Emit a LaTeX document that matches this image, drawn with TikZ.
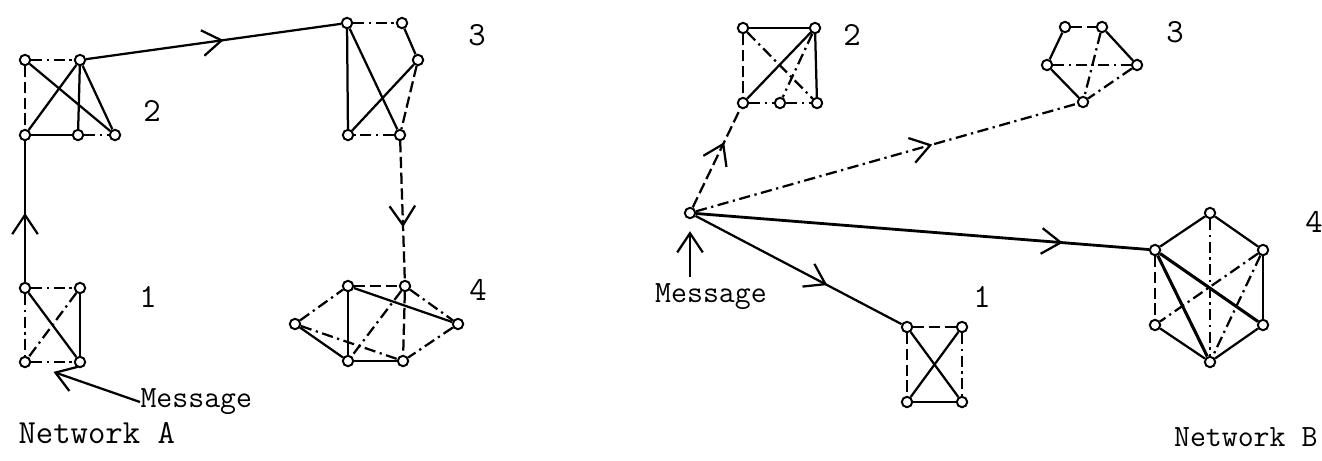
\documentclass[tikz,border=0pt]{standalone}
\usetikzlibrary{arrows.meta,decorations.markings}

\tikzset{
  host/.style={circle, draw, line width=0.7pt, inner sep=0pt, minimum size=0.13cm, fill=white},
  ln/.style={line width=0.8pt},
  dl/.style={line width=0.8pt, dash pattern=on 4pt off 1.6pt},
  ddl/.style={line width=0.8pt, dash pattern=on 4pt off 1.6pt on 0.8pt off 1.6pt},
  barb/.style={-{Straight Barb[length=2.4mm, width=3.2mm, line width=0.8pt]}},
  hop/.style={postaction={decorate}, decoration={markings,
      mark=at position #1 with {\arrow{Straight Barb[length=2.4mm, width=3.2mm, line width=0.8pt]}}}},
  numlbl/.style={font=\fontsize{12}{14}\selectfont\ttfamily, inner sep=0pt},
  msglbl/.style={font=\fontsize{11}{13}\selectfont\ttfamily, inner sep=0pt},
  netlbl/.style={font=\fontsize{12}{14}\selectfont\ttfamily, inner sep=0pt},
}

\begin{document}
\begin{tikzpicture}[x=0.0125cm, y=-0.0125cm]
  \useasboundingbox (0,0) rectangle (1322,460);

  % ---------------- Network A ----------------
  % group 1
  \node[host] (a1nw) at (25,288) {};
  \node[host] (a1ne) at (80,288) {};
  \node[host] (a1sw) at (25,362) {};
  \node[host] (a1se) at (80,362) {};
  \draw[ddl] (a1nw) -- (a1ne);
  \draw[ddl] (a1nw) -- (a1sw);
  \draw[ln]  (a1ne) -- (a1se);
  \draw[ddl] (a1sw) -- (a1se);
  \draw[ln]  (a1nw) -- (a1se);
  \draw[ddl] (a1ne) -- (a1sw);
  \node[numlbl] (la1) at (148,297) {1};

  % group 2
  \node[host] (a2nw) at (25,60) {};
  \node[host] (a2ne) at (80,60) {};
  \node[host] (a2sw) at (25,135) {};
  \node[host] (a2sm) at (78,135) {};
  \node[host] (a2se) at (115,135) {};
  \draw[ddl] (a2nw) -- (a2ne);
  \draw[dl]  (a2nw) -- (a2sw);
  \draw[ln]  (a2nw) -- (a2se);
  \draw[ln]  (a2ne) -- (a2sw);
  \draw[ln]  (a2ne) -- (a2sm);
  \draw[ln]  (a2ne) -- (a2se);
  \draw[ln]  (a2sw) -- (a2sm);
  \draw[ddl] (a2sm) -- (a2se);
  \node[numlbl] (la2) at (152,111) {2};

  % group 3
  \node[host] (a3nw) at (347,23) {};
  \node[host] (a3ne) at (402,23) {};
  \node[host] (a3e)  at (418,60) {};
  \node[host] (a3sw) at (348,135) {};
  \node[host] (a3se) at (400,135) {};
  \draw[ddl] (a3nw) -- (a3ne);
  \draw[ln]  (a3ne) -- (a3e);
  \draw[dl]  (a3e) -- (a3se);
  \draw[ddl] (a3se) -- (a3sw);
  \draw[ln]  (a3sw) -- (a3nw);
  \draw[ln]  (a3nw) -- (a3se);
  \draw[ln]  (a3e) -- (a3sw);
  \node[numlbl] (la3) at (477,35) {3};

  % group 4
  \node[host] (a4nw) at (348,286) {};
  \node[host] (a4ne) at (405,286) {};
  \node[host] (a4w)  at (295,324) {};
  \node[host] (a4e)  at (458,324) {};
  \node[host] (a4sw) at (348,361) {};
  \node[host] (a4se) at (403,361) {};
  \draw[dl]  (a4nw) -- (a4ne);
  \draw[ddl] (a4w) -- (a4nw);
  \draw[ddl] (a4w) -- (a4se);
  \draw[ln]  (a4w) -- (a4sw);
  \draw[ln]  (a4nw) -- (a4sw);
  \draw[ln]  (a4nw) -- (a4e);
  \draw[ddl] (a4ne) -- (a4sw);
  \draw[dl]  (a4ne) -- (a4se);
  \draw[ddl] (a4ne) -- (a4e);
  \draw[ddl] (a4e) -- (a4se);
  \draw[ln]  (a4sw) -- (a4se);
  \node[numlbl] (la4) at (478,290) {4};

  % message path A
  \draw[ln, hop=0.49] (a1nw) -- (a2sw);
  \draw[ln, hop=0.54] (a2ne) -- (a3nw);
  \draw[dl, hop=0.62] (a3se) -- (a4ne);
  \node[msglbl, anchor=west] (msga) at (140,402) {Message};
  \draw[ln, barb, shorten >=0.3cm] (msga.west) -- (a1sw);
  \node[netlbl, anchor=west] (neta) at (18,433) {Network A};

  % ---------------- Network B ----------------
  \node[host] (src) at (690,213) {};

  % group 1
  \node[host] (b1nw) at (907,327) {};
  \node[host] (b1ne) at (962,327) {};
  \node[host] (b1sw) at (907,402) {};
  \node[host] (b1se) at (962,402) {};
  \draw[dl]  (b1nw) -- (b1ne);
  \draw[dl]  (b1nw) -- (b1sw);
  \draw[ddl] (b1ne) -- (b1se);
  \draw[ln]  (b1sw) -- (b1se);
  \draw[ln]  (b1nw) -- (b1se);
  \draw[ln]  (b1ne) -- (b1sw);
  \node[numlbl] (lb1) at (982,297) {1};

  % group 2
  \node[host] (b2nw) at (743,28) {};
  \node[host] (b2ne) at (815,28) {};
  \node[host] (b2sw) at (743,103) {};
  \node[host] (b2sm) at (780,103) {};
  \node[host] (b2se) at (817,103) {};
  \draw[ln]  (b2nw) -- (b2ne);
  \draw[dl]  (b2nw) -- (b2sw);
  \draw[ln]  (b2ne) -- (b2se);
  \draw[ddl] (b2nw) -- (b2se);
  \draw[ln]  (b2ne) -- (b2sw);
  \draw[ddl] (b2ne) -- (b2sm);
  \draw[ddl] (b2sw) -- (b2sm);
  \draw[ddl] (b2sm) -- (b2se);
  \node[numlbl] (lb2) at (852,35) {2};

  % group 3
  \node[host] (b3nw) at (1065,27) {};
  \node[host] (b3ne) at (1102,27) {};
  \node[host] (b3w)  at (1047,65) {};
  \node[host] (b3e)  at (1137,65) {};
  \node[host] (b3s)  at (1083,102) {};
  \draw[dl]  (b3nw) -- (b3ne);
  \draw[ln]  (b3nw) -- (b3w);
  \draw[ln]  (b3ne) -- (b3e);
  \draw[ddl] (b3ne) -- (b3s);
  \draw[ddl] (b3w) -- (b3e);
  \draw[ln]  (b3w) -- (b3s);
  \draw[ddl] (b3e) -- (b3s);
  \node[numlbl] (lb3) at (1175,32) {3};

  % group 4
  \node[host] (b4n)  at (1210,213) {};
  \node[host] (b4nw) at (1155,250) {};
  \node[host] (b4ne) at (1263,250) {};
  \node[host] (b4sw) at (1155,325) {};
  \node[host] (b4se) at (1263,325) {};
  \node[host] (b4s)  at (1210,362) {};
  \draw[ln]  (b4n) -- (b4nw);
  \draw[ln]  (b4n) -- (b4ne);
  \draw[dl]  (b4nw) -- (b4sw);
  \draw[ln]  (b4ne) -- (b4se);
  \draw[ln]  (b4sw) -- (b4s);
  \draw[ln]  (b4se) -- (b4s);
  \draw[ddl, line width=0.6pt] (b4n) -- (b4s);
  \draw[ln, line width=1.1pt] (b4nw) -- (b4se);
  \draw[ddl] (b4ne) -- (b4sw);
  \draw[ln, line width=1.1pt] (b4nw) -- (b4s);
  \draw[ddl] (b4ne) -- (b4s);
  \node[numlbl] (lb4) at (1314,222) {4};

  % message paths B
  \draw[dl, hop=0.66] (src) -- (b2sw);
  \draw[ddl, hop=0.62] (src) -- (b3s);
  \draw[ln, line width=1pt, hop=0.81] (src) -- (b4nw);
  \draw[ln, hop=0.64] (src) -- (b1nw);
  \node[msglbl] (msgb) at (711,297) {Message};
  \draw[ln, barb, shorten >=0.15cm] (msgb.north -| src) ++(0,-6) -- (src);
  \node[netlbl, font=\fontsize{11}{13}\selectfont\ttfamily, anchor=east] (netb) at (1318,437) {Network B};
\end{tikzpicture}
\end{document}
